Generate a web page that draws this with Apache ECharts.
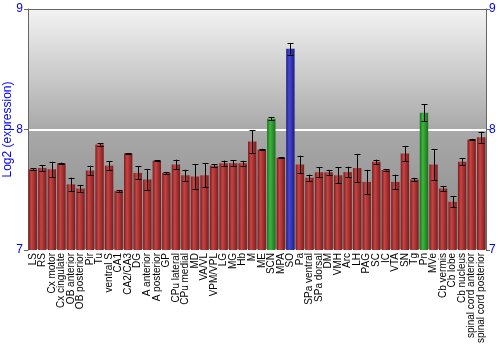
<!DOCTYPE html>
<html>
<head>
<meta charset="utf-8">
<script src="https://cdn.jsdelivr.net/npm/echarts@6/dist/echarts.min.js"></script>
<style>html,body{margin:0;padding:0;background:#fff}#c{width:500px;height:350px}</style>
</head>
<body>
<div id="c"></div>
<script>
const categories = ["LS","RS","Cx motor","Cx cingulate","OB anterior","OB posterior","Pir","Tu","ventral S","CA1","CA2/CA3","DG","A anterior","A posterior","GP","CPu lateral","CPu medial","MD","VA/VL","VPM/VPL","LG","MG","Hb","M","ME","SCN","MPA","SO","Pa","SPa ventral","SPa dorsal","DM","VMH","Arc","LH","PAG","SC","IC","VTA","SN","Tg","Pn","MVe","Cb vermis","Cb lobe","Cb nucleus","spinal cord anterior","spinal cord posterior"];
const values = [7.67,7.68,7.67,7.72,7.545,7.51,7.66,7.876,7.70,7.49,7.80,7.64,7.585,7.74,7.64,7.71,7.62,7.61,7.62,7.70,7.72,7.72,7.72,7.90,7.835,8.09,7.766,8.67,7.71,7.60,7.645,7.645,7.62,7.647,7.68,7.565,7.733,7.664,7.565,7.80,7.585,8.14,7.71,7.51,7.40,7.733,7.917,7.936];
const errors = [0.01,0.025,0.063,0.005,0.055,0.03,0.04,0.01,0.035,0.005,0.005,0.054,0.084,0.005,0.008,0.04,0.045,0.10,0.10,0.012,0.022,0.027,0.02,0.096,0.005,0.01,0.005,0.048,0.073,0.025,0.04,0.02,0.066,0.044,0.117,0.10,0.017,0.005,0.06,0.062,0.014,0.069,0.128,0.02,0.044,0.028,0.005,0.045];
const greenBars = ["SCN","Pn"];
const blueBars = ["SO"];
const yTicks = [7, 8, 9];

function grad(dark, mid) {
  return {type:'linear',x:0,y:0,x2:1,y2:0,colorStops:[
    {offset:0,color:dark},{offset:0.35,color:mid},{offset:1,color:dark}]};
}
const redC = grad('#7a1c1c','#c84444');
const greenC = grad('#1c6e1c','#3cb83c');
const blueC = grad('#1c1c86','#4848d0');

const barData = categories.map((c,i)=>({
  value: values[i],
  itemStyle:{color: greenBars.includes(c)?greenC:(blueBars.includes(c)?blueC:redC)}
}));
const errData = categories.map((c,i)=>[i, values[i]-errors[i], values[i]+errors[i]]);

const chart = echarts.init(document.getElementById('c'), null, {renderer:'canvas'});
const font = 'Liberation Sans, Arial, sans-serif';
chart.setOption({
  animation:false,
  grid:{left:28,right:14,top:9,bottom:100,show:true,borderWidth:0,containLabel:false,outerBoundsMode:'none',
    backgroundColor:{type:'linear',x:0,y:0,x2:0,y2:1,colorStops:[
      {offset:0,color:'#f3f3f3'},{offset:0.5,color:'#a9a9a9'},{offset:1,color:'#888888'}]}},
  xAxis:[{
    type:'category',data:categories,
    axisLine:{show:false},axisTick:{show:false},
    axisLabel:{interval:0,rotate:90,fontSize:10,color:'#000',fontFamily:font,margin:3}
  },{
    type:'category',data:categories,position:'top',
    axisLine:{show:true,lineStyle:{color:'#666',width:1}},axisTick:{show:false},axisLabel:{show:false}
  }],
  yAxis:[{
    type:'value',min:7,max:9,interval:1,position:'left',
    name:'Log2 (expression)',nameLocation:'middle',nameGap:14,nameMoveOverlap:false,
    nameTextStyle:{color:'#0000ff',fontSize:12,fontFamily:font},
    axisLine:{show:true,lineStyle:{color:'#666'}},
    axisTick:{show:true,length:4,lineStyle:{color:'#666'}},
    axisLabel:{color:'#0000ff',fontSize:12,fontFamily:font,margin:5,
      formatter:v=>yTicks.includes(v)?String(v):''},
    splitLine:{show:true,lineStyle:{color:'#ffffff',width:2}}
  },{
    type:'value',min:7,max:9,interval:1,position:'right',
    axisLine:{show:true,lineStyle:{color:'#666'}},
    axisTick:{show:true,length:4,lineStyle:{color:'#666'}},
    axisLabel:{color:'#0000ff',fontSize:12,fontFamily:font,margin:3},
    splitLine:{show:false}
  }],
  series:[{
    type:'bar',data:barData,barCategoryGap:'12%'
  },{
    type:'custom',
    data:errData,
    z:5,
    renderItem:function(params, api){
      const x = api.value(0);
      const lo = api.coord([x, api.value(1)]);
      const hi = api.coord([x, api.value(2)]);
      const cx = Math.round(lo[0]) + 0.5;
      const w = 3;
      const st = {stroke:'#000',lineWidth:1};
      return {type:'group',children:[
        {type:'line',shape:{x1:cx,y1:lo[1],x2:cx,y2:hi[1]},style:st},
        {type:'line',shape:{x1:cx-w,y1:Math.round(lo[1])+0.5,x2:cx+w,y2:Math.round(lo[1])+0.5},style:st},
        {type:'line',shape:{x1:cx-w,y1:Math.round(hi[1])+0.5,x2:cx+w,y2:Math.round(hi[1])+0.5},style:st}
      ]};
    }
  }]
});
</script>
</body>
</html>
